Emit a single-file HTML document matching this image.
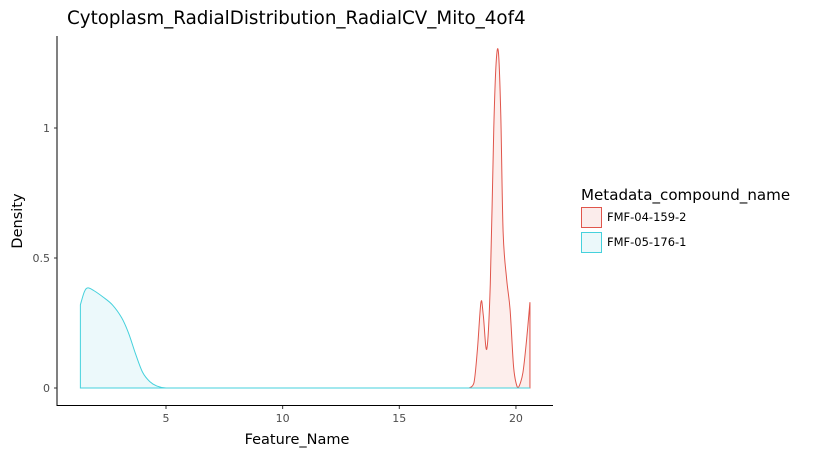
<!DOCTYPE html>
<html><head><meta charset="utf-8"><style>
body{margin:0;background:#fff;font-family:"DejaVu Sans","Liberation Sans",sans-serif}
</style></head><body>
<svg width="819" height="458" style="display:block" font-family="DejaVu Sans, Liberation Sans, sans-serif">
<text x="67" y="24" font-size="18.3" fill="#000">Cytoplasm_RadialDistribution_RadialCV_Mito_4of4</text>
<g id="plot"></g>
<line x1="57" y1="36" x2="57" y2="406" stroke="#000" stroke-width="1"/>
<line x1="57" y1="405.5" x2="553" y2="405.5" stroke="#000" stroke-width="1"/>
<g id="xticks"></g><g id="yticks"></g>
<text x="297" y="444" font-size="14.5" text-anchor="middle">Feature_Name</text>
<text transform="translate(22,221) rotate(-90)" font-size="14.5" text-anchor="middle">Density</text>
<g>
<text x="581" y="200" font-size="15.1">Metadata_compound_name</text>
<g>
<rect x="581.5" y="207.5" width="20" height="20" fill="#fbeceb" stroke="#e0554b"/>
<text x="607" y="221" font-size="11.5">FMF-04-159-2</text></g>
<g>
<rect x="581.5" y="232.5" width="20" height="20" fill="#ebf8fa" stroke="#45d1dc"/>
<text x="607" y="246" font-size="11.5">FMF-05-176-1</text></g>
</g>
</svg>
<script>
const xTicks=[5,10,15,20];
const yTicks=[0,0.5,1];
const yTickLabels=["0","0.5","1"];
const redX=[18.0,18.2,18.35,18.5,18.6,18.75,18.9,19.05,19.15,19.25,19.35,19.45,19.6,19.75,19.9,20.05,20.15,20.3,20.45,20.6];
const redY=[0,0.02,0.15,0.33,0.28,0.15,0.4,1.0,1.25,1.29,1.05,0.6,0.42,0.3,0.08,0.005,0.01,0.06,0.18,0.33];
const cyanX=[1.33,1.5,1.65,1.9,2.3,2.7,3.1,3.4,3.7,4.0,4.3,4.6,5.0,6,20.6];
const cyanY=[0.32,0.37,0.385,0.375,0.35,0.32,0.27,0.21,0.13,0.06,0.025,0.008,0,0,0];
const NS="http://www.w3.org/2000/svg";
function sx(v){return 166+(v-5)*23.33;}
function sy(v){return 388-v*260;}
function smooth(xs,ys){
  const p=xs.map((x,i)=>[sx(x),sy(ys[i])]);
  let d="M"+p[0][0]+","+p[0][1];
  for(let i=0;i<p.length-1;i++){
    const p0=p[i-1]||p[i],p1=p[i],p2=p[i+1],p3=p[i+2]||p2;
    let c1y=p1[1]+(p2[1]-p0[1])/6,c2y=p2[1]-(p3[1]-p1[1])/6;
    c1y=Math.min(c1y,388);c2y=Math.min(c2y,388);
    d+=" C"+(p1[0]+(p2[0]-p0[0])/6)+","+c1y+" "+(p2[0]-(p3[0]-p1[0])/6)+","+c2y+" "+p2[0]+","+p2[1];
  }
  return d;
}
const plot=document.getElementById("plot");
const base=document.createElementNS(NS,"line");
base.setAttribute("x1",sx(cyanX[0]));base.setAttribute("x2",sx(redX[0]));base.setAttribute("y1",388);base.setAttribute("y2",388);
base.setAttribute("stroke","#8a8a8a");base.setAttribute("stroke-width","1");


plot.appendChild(base);
function series(xs,ys,fill,stroke,name){
  const a=document.createElementNS(NS,"path");
  a.setAttribute("d",smooth(xs,ys)+" L"+sx(xs[xs.length-1])+",388 L"+sx(xs[0])+",388 Z");
  a.setAttribute("fill",fill);a.setAttribute("stroke",stroke);a.setAttribute("stroke-width","1");
  
  
  plot.appendChild(a);
}
series(redX,redY,"rgba(240,120,110,0.13)","#e0554b","density-area-fmf-04-159-2");
series(cyanX,cyanY,"rgba(70,200,215,0.1)","#45d1dc","density-area-fmf-05-176-1");
const xt=document.getElementById("xticks");
xTicks.forEach(t=>{
  const l=document.createElementNS(NS,"line");
  l.setAttribute("x1",sx(t));l.setAttribute("x2",sx(t));l.setAttribute("y1",406);l.setAttribute("y2",409);l.setAttribute("stroke","#333");
  
  
  xt.appendChild(l);
  const s=document.createElementNS(NS,"text");
  s.setAttribute("x",sx(t));s.setAttribute("y",422);s.setAttribute("font-size","11");s.setAttribute("text-anchor","middle");s.setAttribute("fill","#4d4d4d");
  s.textContent=t;
  
  
  xt.appendChild(s);
});
const yt=document.getElementById("yticks");
yTicks.forEach((t,i)=>{
  const l=document.createElementNS(NS,"line");
  l.setAttribute("x1",54);l.setAttribute("x2",57);l.setAttribute("y1",sy(t));l.setAttribute("y2",sy(t));l.setAttribute("stroke","#333");
  
  
  yt.appendChild(l);
  const s=document.createElementNS(NS,"text");
  s.setAttribute("x",50);s.setAttribute("y",sy(t)+4);s.setAttribute("font-size","11");s.setAttribute("text-anchor","end");s.setAttribute("fill","#4d4d4d");
  s.textContent=yTickLabels[i];
  
  
  yt.appendChild(s);
});
</script>
</body></html>
